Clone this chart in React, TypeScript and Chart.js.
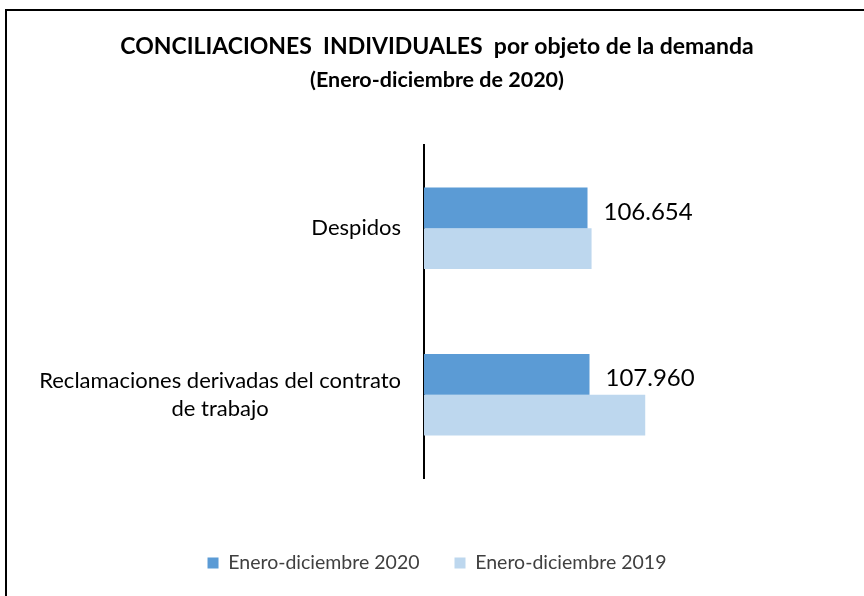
import { useEffect, useRef } from 'react';
import { Chart, registerables } from 'chart.js';

Chart.register(...registerables);

const titleText = 'CONCILIACIONES  INDIVIDUALES  por objeto de la demanda';
const subtitleText = '(Enero-diciembre de 2020)';
const categoryLines: string[][] = [
  ['Despidos'],
  ['Reclamaciones derivadas del contrato', 'de trabajo'],
];
const categories = categoryLines.map((l) => l.join(' '));
const seriesNames = ['Enero-diciembre 2020', 'Enero-diciembre 2019'];
const values2020 = [106654, 107960];
const values2019 = [109300, 144300];
const xMax = 287000;

const FONT = 'Lato, "Open Sans", sans-serif';

function fmt(v: number): string {
  return String(Math.round(v)).replace(/\B(?=(\d{3})+(?!\d))/g, '.');
}

const customPlugin = {
  id: 'customDraw',
  beforeDraw(chart: any) {
    const ctx = chart.ctx;
    ctx.save();
    ctx.fillStyle = '#ffffff';
    ctx.fillRect(0, 0, chart.width, chart.height);
    ctx.restore();
  },
  afterDraw(chart: any) {
    const ctx = chart.ctx;
    ctx.save();
    // frame
    ctx.strokeStyle = '#000000';
    ctx.lineWidth = 2;
    ctx.strokeRect(6, 10, 2000, 2000);

    // category labels
    const yScale = chart.scales.y;
    ctx.font = `22px ${FONT}`;
    ctx.fillStyle = '#000000';
    ctx.textBaseline = 'middle';
    ctx.textAlign = 'center';
    const lh = 28;
    const rightEdge = chart.chartArea.left - 23;
    categoryLines.forEach((lines, i) => {
      const cy = yScale.getPixelForValue(i);
      const widest = Math.max(...lines.map((l) => ctx.measureText(l).width));
      const cx = rightEdge - widest / 2;
      lines.forEach((l, j) => {
        ctx.fillText(l, cx, cy + (j - (lines.length - 1) / 2) * lh);
      });
    });

    // data labels for 2020 series
    const meta = chart.getDatasetMeta(0);
    ctx.font = `24px ${FONT}`;
    ctx.textAlign = 'left';
    meta.data.forEach((bar: any, i: number) => {
      ctx.fillText(fmt(values2020[i]), bar.x + 16, bar.y + 4);
    });
    ctx.restore();
  },
};

export default function App() {
  const ref = useRef<HTMLCanvasElement>(null);
  useEffect(() => {
    if (!ref.current) return;
    const chart = new Chart(ref.current, {
      type: 'bar',
      data: {
        labels: categories,
        datasets: [
          {
            label: seriesNames[0],
            data: values2020,
            backgroundColor: '#5B9BD5',
            borderWidth: 0,
            categoryPercentage: 0.49,
            barPercentage: 1,
          },
          {
            label: seriesNames[1],
            data: values2019,
            backgroundColor: '#BDD7EE',
            borderWidth: 0,
            categoryPercentage: 0.49,
            barPercentage: 1,
          },
        ],
      },
      options: {
        indexAxis: 'y',
        responsive: false,
        animation: false,
        layout: { padding: { left: 10, right: 0, top: 0, bottom: 13.25 } },
        scales: {
          x: {
            min: 0,
            max: xMax,
            display: true,
            ticks: { display: false },
            grid: { display: false },
            border: { display: false },
            afterFit: (s: any) => {
              s.height = 40.25;
            },
          },
          y: {
            display: true,
            ticks: { display: false },
            grid: { display: false },
            border: { display: true, color: '#000000', width: 2 },
            afterFit: (s: any) => {
              s.width = 414;
            },
          },
        },
        plugins: {
          title: {
            display: true,
            text: titleText,
            color: '#000000',
            font: { family: FONT, size: 23, weight: 'bold' },
            padding: { top: 33.2, bottom: 0 },
          },
          subtitle: {
            display: true,
            text: subtitleText,
            color: '#000000',
            font: { family: FONT, size: 21.5, weight: 'bold' },
            padding: { top: 6.3, bottom: 52.1 },
          },
          legend: {
            display: true,
            position: 'bottom',
            labels: {
              boxWidth: 11,
              boxHeight: 11,
              padding: 35,
              color: '#404040',
              font: { family: FONT, size: 19.5 },
            },
          },
          tooltip: { enabled: false },
        },
      },
      plugins: [customPlugin],
    } as any);
    return () => chart.destroy();
  }, []);
  return (
    <div style={{ position: 'fixed', left: 0, top: 0, width: 864, height: 596 }}>
      <canvas ref={ref} width={864} height={596} />
    </div>
  );
}
